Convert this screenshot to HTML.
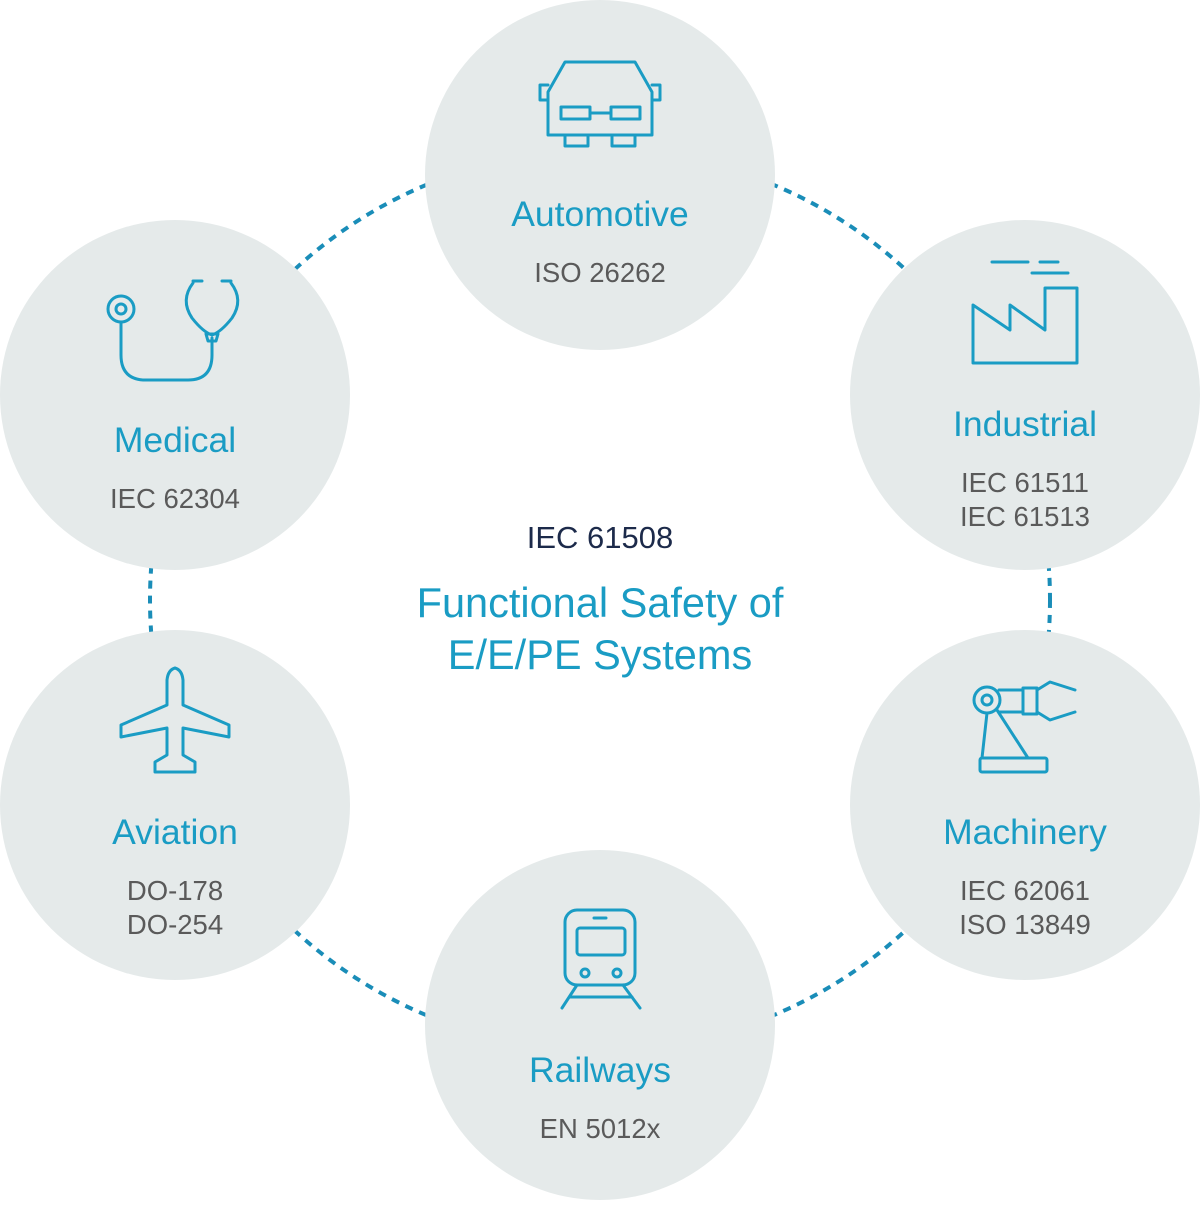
<!DOCTYPE html>
<html><head><meta charset="utf-8"><style>
html,body{margin:0;padding:0;background:#fff}
svg text{font-family:"Liberation Sans",sans-serif}
</style></head><body>
<svg width="1200" height="1200" viewBox="0 0 1200 1200" xmlns="http://www.w3.org/2000/svg">
<circle cx="600" cy="600" r="450" fill="none" stroke="#1a8db8" stroke-width="4" stroke-dasharray="8 7"/>
<g fill="#e5eaea">
<circle cx="600" cy="175" r="175"/>
<circle cx="1025" cy="395" r="175"/>
<circle cx="1025" cy="805" r="175"/>
<circle cx="600" cy="1025" r="175"/>
<circle cx="175" cy="805" r="175"/>
<circle cx="175" cy="395" r="175"/>
</g>
<g fill="none" stroke="#1a9cc4" stroke-width="3" stroke-linejoin="round" stroke-linecap="round">
<path d="M565,62 L635,62 L652,92 L652,135 L548,135 L548,92 Z"/>
<path d="M548,85 L540,85 L540,100 L548,100 M652,85 L660,85 L660,100 L652,100"/>
<rect x="561" y="107" width="29" height="12"/><rect x="611" y="107" width="29" height="12"/>
<path d="M590,113 L611,113"/>
<rect x="565" y="135" width="23" height="11"/><rect x="612" y="135" width="23" height="11"/>
<path d="M992,262 L1028,262 M1040,262 L1058,262 M1032,273 L1068,273"/>
<path d="M973,363 L973,305 L1010,330 L1010,305 L1045,330 L1045,288 L1077,288 L1077,363 Z"/>
<circle cx="121" cy="309" r="13"/><circle cx="121" cy="309" r="5"/>
<path d="M121,322 L121,355 Q121,380 146,380 L188,380 Q212,380 212,355 L212,338"/>
<path d="M193,283 Q180,300 192,318 Q203,332 212,335 Q221,332 232,318 Q244,300 231,283"/>
<path d="M193,281 L202,281 M222,281 L231,281"/>
<path d="M206,334 L218,334 L216,341 L208,341 Z"/>
<circle cx="987" cy="700" r="13"/><circle cx="987" cy="700" r="5"/>
<path d="M987,713 L982,758 L1028,758 L997,710"/>
<path d="M999,690 L1023,690 L1023,712 L999,712"/>
<rect x="1023" y="688" width="14" height="26"/>
<path d="M1037,690 L1050,682 L1075,690 M1037,712 L1050,720 L1075,712"/>
<rect x="980" y="758" width="67" height="14" rx="2"/>
<rect x="565" y="910" width="70" height="75" rx="12"/>
<rect x="577" y="928" width="48" height="27" rx="3"/>
<circle cx="585" cy="973" r="4"/><circle cx="617" cy="973" r="4"/>
<path d="M594,918 L606,918 M577,985 L562,1008 M623,985 L640,1008 M570,997 L632,997"/>
<path d="M175,668 Q168,670 167,680 L167,705 L121,725 L121,737 L167,728 L167,755 L155,762 L155,772 L195,772 L195,762 L183,755 L183,728 L229,737 L229,725 L183,705 L183,680 Q182,670 175,668 Z"/>
</g>
<g text-anchor="middle">
<text x="600" y="226" font-size="35.5" fill="#1a9cc4">Automotive</text>
<text x="600" y="282" font-size="27.5" fill="#5a5a5a">ISO 26262</text>
<text x="1025" y="436" font-size="35.5" fill="#1a9cc4">Industrial</text>
<text x="1025" y="492" font-size="27.5" fill="#5a5a5a">IEC 61511</text>
<text x="1025" y="526" font-size="27.5" fill="#5a5a5a">IEC 61513</text>
<text x="1025" y="844" font-size="35.5" fill="#1a9cc4">Machinery</text>
<text x="1025" y="900" font-size="27.5" fill="#5a5a5a">IEC 62061</text>
<text x="1025" y="934" font-size="27.5" fill="#5a5a5a">ISO 13849</text>
<text x="600" y="1082" font-size="35.5" fill="#1a9cc4">Railways</text>
<text x="600" y="1138" font-size="27.5" fill="#5a5a5a">EN 5012x</text>
<text x="175" y="844" font-size="35.5" fill="#1a9cc4">Aviation</text>
<text x="175" y="900" font-size="27.5" fill="#5a5a5a">DO-178</text>
<text x="175" y="934" font-size="27.5" fill="#5a5a5a">DO-254</text>
<text x="175" y="452" font-size="35.5" fill="#1a9cc4">Medical</text>
<text x="175" y="508" font-size="27.5" fill="#5a5a5a">IEC 62304</text>
<text x="600" y="548" font-size="31" fill="#1c2a4a">IEC 61508</text>
<text x="600" y="617" font-size="41.5" fill="#1a9cc4">Functional Safety of</text>
<text x="600" y="669" font-size="41.5" fill="#1a9cc4">E/E/PE Systems</text>
</g>
</svg>
</body></html>
